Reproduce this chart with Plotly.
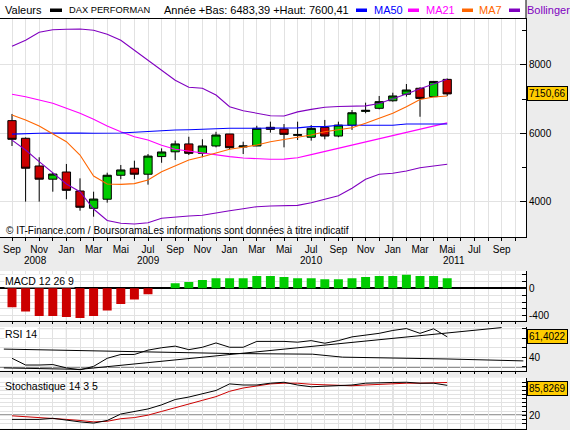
import plotly.graph_objects as go

# ---------------- data ----------------
month_names = ["Sep", "Oct", "Nov", "Déc", "Jan", "Fév", "Mar", "Avr", "Mai", "Jun", "Jul", "Aoû"]
n_axis_months = 38
year_labels = ["2008", "2009", "2010", "2011"]
year_pos = [1.7, 10, 22, 32.5]

# monthly candles Sep 2008 .. May 2011
opens = [6370, 5855, 5045, 4660, 4870, 4315, 3810, 4075, 4775, 4980, 4805, 5320, 5460, 5690, 5415, 5630,
         5980, 5600, 5630, 6175, 6125, 5940, 5885, 6175, 5920, 6235, 6640, 6730, 6950, 7140, 7315, 7070, 7575]
highs = [6565, 5880, 5300, 4850, 5105, 4685, 4295, 4850, 5075, 5200, 5395, 5560, 5785, 5900, 5825, 6045,
         5985, 5755, 6220, 6340, 6270, 6340, 6240, 6390, 6340, 6680, 6895, 7090, 7185, 7440, 7345, 7527, 7600.41]
lows = [5630, 4005, 4005, 4295, 4075, 3740, 3565, 3975, 4660, 4660, 4500, 5140, 5220, 5365, 5300, 5590,
        5535, 5395, 5625, 6020, 5590, 5805, 5785, 5825, 5885, 6100, 6585, 6700, 6925, 7070, 6483.39, 7065, 7090]
closes = [5825, 4980, 4660, 4810, 4335, 3840, 4080, 4775, 4930, 4805, 5335, 5455, 5690, 5415, 5630, 5950,
          5580, 5630, 6145, 6115, 5970, 5960, 6145, 5920, 6240, 6600, 6670, 6925, 7090, 7265, 7020, 7515, 7150.66]

ma50 = [5975, 5995, 6000, 6005, 6015, 6010, 6000, 6000, 6010, 6030, 6058, 6080, 6096, 6105, 6120, 6140,
        6146, 6146, 6146, 6150, 6150, 6160, 6195, 6195, 6234, 6234, 6234, 6234, 6234, 6272, 6272, 6272, 6272]
ma21 = [7140, 7069, 6972, 6876, 6730, 6584, 6409, 6213, 6047, 5901, 5804, 5650, 5533, 5474, 5434, 5375,
        5318, 5279, 5250, 5241, 5245, 5285, 5378, 5470, 5563, 5656, 5748, 5841, 5934, 6026, 6119, 6211, 6304]
ma7 = [6534, 6388, 6213, 5980, 5755, 5366, 4753, 4519, 4510, 4530, 4636, 4879, 5045, 5220, 5318, 5416,
       5533, 5591, 5658, 5755, 5825, 5901, 5950, 6047, 6096, 6164, 6292, 6438, 6584, 6777, 6990, 7060, 7090]
boll_up = [8543, 8719, 8952, 9025, 9040, 9045, 9010, 8894, 8719, 8427, 8135, 7843, 7551, 7347, 7318, 7118,
           6777, 6660, 6584, 6514, 6505, 6625, 6700, 6760, 6785, 6797, 6800, 6870, 7000, 7150, 7300, 7450, 7580]
boll_dn = [5800, 5512, 5171, 4832, 4519, 4295, 3789, 3454, 3372, 3352, 3390, 3518, 3556, 3585, 3606, 3682,
           3740, 3799, 3857, 3877, 3886, 3896, 3974, 4073, 4178, 4394, 4657, 4803, 4832, 4899, 4995, 5045, 5096]

macd_hist = [-274, -338, -400, -400, -416, -432, -400, -322, -226, -163, -85, 0, 74, 90, 122, 147,
             147, 147, 179, 179, 163, 147, 147, 131, 131, 147, 163, 179, 179, 195, 179, 179, 147]

rsi = [39, 32, 32, 32.5, 29, 27, 30.6, 39, 43, 43, 47.5, 50, 51.7, 48, 50.5, 55,
       50.5, 50.5, 56.6, 56.6, 56.6, 55.8, 57.4, 54.7, 57.4, 61.3, 63, 65, 68, 70, 65, 69.7, 61.4]
rsi_line_a_x = [-0.6, 9.5, 16, 22.1, 24.3, 32, 37.6]
rsi_line_a_y = [48.6, 45.9, 44, 43.3, 40.2, 38.3, 36.3]
rsi_line_b_x = [-0.6, 5, 36]
rsi_line_b_y = [29, 27.5, 71]
rsi_levels = [30, 70]

stoch_k = [9.6, 9.6, 9.6, 12.3, 7.7, 3.5, 0.6, 7, 22.7, 28.9, 35, 45, 58, 64, 71.5, 80,
           96, 93.3, 93.3, 97.7, 100, 93.3, 89, 90.7, 91.5, 93.3, 97.7, 97.7, 99.5, 100, 97.7, 97.7, 92.5]
stoch_d = [18.3, 16.5, 14, 12.3, 9.6, 7, 3.5, 5, 11.3, 14, 20, 29, 38.6, 47.5, 56, 65,
           78, 86, 90.7, 96, 97.7, 97.7, 95, 93.3, 91.5, 91.5, 93.3, 95, 97.7, 97.7, 97.7, 99.5, 99.5]
stoch_levels = [20, 80]

last_close_label = "7150,66"
last_rsi_label = "61,4022"
last_stoch_label = "85,8269"
last_stoch_value = 85.8269

header_texts = ["Valeurs", "DAX PERFORMAN", "Année +Bas: 6483,39 +Haut: 7600,41"]
legend_names = ["MA50", "MA21", "MA7", "Bollinger"]
legend_colors = ["#0000FF", "#FF00FF", "#FF6600", "#8000C0"]
watermark = "© IT-Finance.com / BoursoramaLes informations sont données à titre indicatif"
panel_titles = ["MACD 12 26 9", "RSI 14", "Stochastique 14 3 5"]

# ---------------- geometry ----------------
W, H = 570, 430
PR = 526.0
FONT = "Liberation Sans, Arial, sans-serif"
GRID = "#E2E2E2"
JAN = "#A4A4A4"


def py(px):  # pixel y -> paper y
    return 1 - px / H


def pxx(px):  # pixel x -> paper x
    return px / PR


idx = list(range(len(opens)))
xr = [-12 / 13.6, (PR - 12) / 13.6]

fig = go.Figure()

# main panel lines
for vals, col in [(boll_up, legend_colors[3]), (boll_dn, legend_colors[3]),
                  (ma21, legend_colors[1]), (ma50, legend_colors[0]), (ma7, legend_colors[2])]:
    fig.add_trace(go.Scatter(x=idx, y=vals, mode="lines", line=dict(color=col, width=1.1),
                             xaxis="x", yaxis="y", showlegend=False, hoverinfo="skip"))

fig.add_trace(go.Candlestick(
    x=idx, open=opens, high=highs, low=lows, close=closes, xaxis="x", yaxis="y",
    increasing=dict(line=dict(color="black", width=1), fillcolor="#00CC00"),
    decreasing=dict(line=dict(color="black", width=1), fillcolor="#CC0000"),
    whiskerwidth=0, showlegend=False, hoverinfo="skip"))

# MACD
fig.add_trace(go.Bar(x=idx, y=macd_hist, width=0.66,
                     marker=dict(color=["#00CC00" if v >= 0 else "#CC0000" for v in macd_hist], line=dict(width=0)),
                     xaxis="x2", yaxis="y2", showlegend=False, hoverinfo="skip"))

# RSI
fig.add_trace(go.Scatter(x=rsi_line_a_x, y=rsi_line_a_y, mode="lines", line=dict(color="black", width=1),
                         xaxis="x3", yaxis="y3", showlegend=False, hoverinfo="skip"))
fig.add_trace(go.Scatter(x=rsi_line_b_x, y=rsi_line_b_y, mode="lines", line=dict(color="black", width=1),
                         xaxis="x3", yaxis="y3", showlegend=False, hoverinfo="skip"))
fig.add_trace(go.Scatter(x=idx, y=rsi, mode="lines", line=dict(color="black", width=1),
                         xaxis="x3", yaxis="y3", showlegend=False, hoverinfo="skip"))

# Stochastic
fig.add_trace(go.Scatter(x=idx, y=stoch_d, mode="lines", line=dict(color="#CC0000", width=1),
                         xaxis="x4", yaxis="y4", showlegend=False, hoverinfo="skip"))
fig.add_trace(go.Scatter(x=idx, y=stoch_k, mode="lines", line=dict(color="black", width=1),
                         xaxis="x4", yaxis="y4", showlegend=False, hoverinfo="skip"))

tick_text = [month_names[i % 12] if i % 2 == 0 else "" for i in range(n_axis_months)]

common_x = dict(range=xr, tickvals=list(range(n_axis_months)), showgrid=True, gridcolor=GRID, gridwidth=1,
                zeroline=False, showline=True, linecolor="black", linewidth=1, ticks="outside",
                ticklen=2, tickcolor="black", fixedrange=True, domain=[0, 1])

common_y = dict(side="right", showline=True, linecolor="black", linewidth=1, ticks="inside",
                ticklen=4, tickcolor="black", showgrid=True, gridcolor=GRID, zeroline=False,
                tickfont=dict(family=FONT, size=10, color="black"), fixedrange=True)

xmain = dict(common_x)
xmain.update(anchor="y", ticktext=tick_text, mirror=True, ticklen=3,
             tickfont=dict(family=FONT, size=10, color="black"), rangeslider=dict(visible=False))
ymain = dict(common_y)
ymain.update(ticklen=6, domain=[py(237), py(19)], anchor="x", range=[2972, 9338], tick0=0, dtick=2000,
             tickformat="d",
             minor=dict(dtick=1000, tick0=0, ticks="inside", ticklen=4, tickcolor="black", showgrid=False))

fig.update_layout(
    width=W, height=H, autosize=False,
    margin=dict(l=0, r=W - PR, t=0, b=0, pad=0),
    paper_bgcolor="#ECECEC", plot_bgcolor="white",
    font=dict(family=FONT, size=10, color="black"),
    hovermode=False, showlegend=False,
    boxgap=0.13, boxgroupgap=0.3,
    xaxis=xmain,
    xaxis2=dict(common_x, anchor="y2", showticklabels=False),
    xaxis3=dict(common_x, anchor="y3", showticklabels=False),
    xaxis4=dict(common_x, anchor="y4", showticklabels=False),
    yaxis=ymain,
    yaxis2=dict(common_y, domain=[py(320.5), py(271)], anchor="x2", range=[-467, 251],
                tickvals=[-400, -300, -200, -100, 0, 100, 200],
                ticktext=["-400", "", "", "", "0", "", ""],
                zeroline=True, zerolinecolor="black", zerolinewidth=1.5),
    yaxis3=dict(common_y, domain=[py(370.5), py(327)], anchor="x3", range=[26.3, 71.6],
                tickvals=[30, 40, 50, 60, 70], ticktext=["", "40", "", "", ""]),
    yaxis4=dict(common_y, domain=[py(428.6), py(377.7)], anchor="x4", range=[-12.8, 111.1],
                tickvals=list(range(0, 101, 10)), ticktext=["20" if v == 20 else "" for v in range(0, 101, 10)]),
)

shapes = []
# header background and right border through header
shapes.append(dict(type="rect", xref="paper", yref="paper", x0=0, x1=1, y0=py(19), y1=1,
                   fillcolor="white", line=dict(width=0), layer="below"))
shapes.append(dict(type="line", xref="paper", yref="paper", x0=1, x1=1, y0=py(19), y1=1,
                   line=dict(color="black", width=1)))
# january separators in every panel
for xa, ya in [("x", "y"), ("x2", "y2"), ("x3", "y3"), ("x4", "y4")]:
    for j in range(n_axis_months):
        if month_names[j % 12] == "Jan":
            shapes.append(dict(type="line", xref=xa, yref=ya + " domain", x0=j, x1=j, y0=0, y1=1,
                               line=dict(color=JAN, width=1), layer="below"))
for lv in rsi_levels:
    shapes.append(dict(type="line", xref="x3 domain", yref="y3", x0=0, x1=1, y0=lv, y1=lv,
                       line=dict(color="black", width=1), layer="below"))
for lv in stoch_levels:
    shapes.append(dict(type="line", xref="x4 domain", yref="y4", x0=0, x1=1, y0=lv, y1=lv,
                       line=dict(color="black", width=1), layer="below"))
# header legend markers
shapes.append(dict(type="rect", xref="paper", yref="paper", x0=pxx(50), x1=pxx(62), y0=py(12), y1=py(8.5),
                   fillcolor="black", line=dict(width=0)))
for mx, col in zip([356, 408, 462, 509], legend_colors):
    shapes.append(dict(type="rect", xref="paper", yref="paper", x0=pxx(mx), x1=pxx(mx + 11),
                       y0=py(12), y1=py(8.5), fillcolor=col, line=dict(width=0)))
fig.update_layout(shapes=shapes)

ann = []
hx = [3, 67, 162]
hsize = [11, 9.3, 11]
for t, x, s in zip(header_texts, hx, hsize):
    ann.append(dict(text=t, xref="paper", yref="paper", x=pxx(x), y=py(10), xanchor="left", yanchor="middle",
                    showarrow=False, font=dict(family=FONT, size=s, color="black")))
for t, x, col in zip(legend_names, [372, 424, 477, 525], legend_colors):
    ann.append(dict(text=t, xref="paper", yref="paper", x=pxx(x), y=py(10), xanchor="left", yanchor="middle",
                    showarrow=False, font=dict(family=FONT, size=11, color=col)))
ann.append(dict(text=watermark, xref="paper", yref="paper", x=pxx(4), y=py(230.5), xanchor="left",
                yanchor="middle", showarrow=False, font=dict(family=FONT, size=10, color="black")))
for t, x in zip(year_labels, year_pos):
    ann.append(dict(text=t, xref="x", yref="paper", x=x, y=py(260), xanchor="center", yanchor="middle",
                    showarrow=False, font=dict(family=FONT, size=10, color="black")))
for t, yc, bg in zip(panel_titles, [280.5, 334, 386], ["white", "white", "rgba(0,0,0,0)"]):
    ann.append(dict(text=t, xref="paper", yref="paper", x=pxx(4), y=py(yc), xanchor="left", yanchor="middle",
                    showarrow=False, bgcolor=bg, borderpad=0, font=dict(family=FONT, size=10.5, color="black")))
for t, yref, yv in [(last_close_label, "y", closes[-1]), (last_rsi_label, "y3", rsi[-1]),
                    (last_stoch_label, "y4", last_stoch_value)]:
    ann.append(dict(text=t, xref="paper", yref=yref, x=pxx(527), y=yv, xanchor="left", yanchor="middle",
                    showarrow=False, bgcolor="#FFCC00", bordercolor="black", borderwidth=1, borderpad=1,
                    font=dict(family=FONT, size=10, color="black")))
fig.update_layout(annotations=ann)

fig.write_html("out.html")
